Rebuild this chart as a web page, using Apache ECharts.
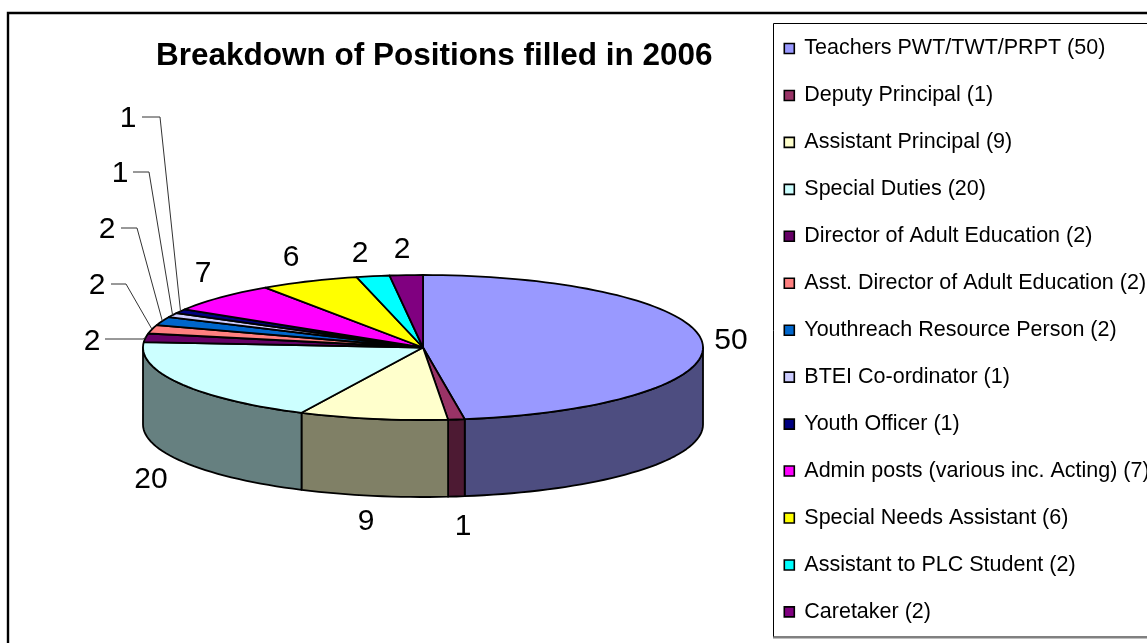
<!DOCTYPE html>
<html><head><meta charset="utf-8">
<style>html,body{margin:0;padding:0;background:#fff}#c{width:1147px;height:643px}</style>
<script src="https://cdn.jsdelivr.net/npm/echarts@6/dist/echarts.min.js"></script>
</head><body><div id="c"></div>
<script>
const names = ['Teachers PWT/TWT/PRPT (50)','Deputy Principal (1)','Assistant Principal (9)','Special Duties (20)','Director of Adult Education (2)','Asst. Director of Adult Education (2)','Youthreach Resource Person (2)','BTEI Co-ordinator (1)','Youth Officer (1)','Admin posts (various inc. Acting) (7)','Special Needs Assistant (6)','Assistant to PLC Student (2)','Caretaker (2)'];
const values = [50,1,9,20,2,2,2,1,1,7,6,2,2];
const colors = ['#9999FF','#993366','#FFFFCC','#CCFFFF','#660066','#FF8080','#0066CC','#CCCCFF','#000080','#FF00FF','#FFFF00','#00FFFF','#800080'];
const labelAt = [[731,339],[463,525],[366,520],[151,478],[92,340],[97,284],[107,228],[120,172],[128,117],[203,272],[291,256],[360,252],[402,248]];
const leaderElbow = [null,null,null,null,[143,339],[126,284],[137,228],[149,172],[160,117],null,null,null,null];
const leaderStart = [null,null,null,null,[105,339],[111,284],[121,228],[133,172],[142,117],null,null,null,null];

const cx = 423, cy = 347.5, rx = 280, ry = 72.5, depth = 77;
const total = values.reduce((a,b)=>a+b,0);
const pt = (deg,dy=0)=>{const t=deg*Math.PI/180;return [cx+rx*Math.sin(t), cy-ry*Math.cos(t)+dy];};
const arc = (a,b,dy=0)=>{const out=[],n=Math.max(2,Math.ceil(Math.abs(b-a)/2));for(let i=0;i<=n;i++)out.push(pt(a+(b-a)*i/n,dy));return out;};
const dark = hex=>{const n=parseInt(hex.slice(1),16);const f=v=>Math.round(v/2);return `rgb(${f(n>>16&255)},${f(n>>8&255)},${f(n&255)})`;};

const starts=[];let run=0;values.forEach(v=>{starts.push(run);run+=v;});

function render(i){
  return function(params,api){
    const a=starts[i]/total*360, b=(starts[i]+api.value(0))/total*360;
    const children=[];
    const sa=Math.max(a,90), sb=Math.min(b,270);
    if(sb>sa){
      const top=arc(sa,sb), bot=arc(sa,sb,depth).reverse();
      children.push({type:'polygon',z2:1,shape:{points:top.concat(bot)},style:{fill:dark(colors[i]),stroke:'#000',lineWidth:1.8,lineJoin:'round'}});
    }
    children.push({type:'polygon',z2:2,shape:{points:[[cx,cy]].concat(arc(a,b))},style:{fill:colors[i],stroke:'#000',lineWidth:1.8,lineJoin:'round'}});
    if(leaderElbow[i]){
      const e=pt((a+b)/2);
      children.push({type:'polyline',z2:3,shape:{points:[leaderStart[i],leaderElbow[i],e]},style:{fill:null,stroke:'#333',lineWidth:1}});
    }
    children.push({type:'text',z2:4,style:{x:labelAt[i][0],y:labelAt[i][1]+2,text:String(api.value(0)),fill:'#000',font:'30px "Liberation Sans"',align:'center',verticalAlign:'middle'}});
    return {type:'group',children};
  };
}

const series=names.map((n,i)=>({type:'custom',name:n,coordinateSystem:'none',silent:true,clip:false,itemStyle:{color:colors[i]},renderItem:render(i),data:[[values[i]]],encode:{}}));

const chart=echarts.init(document.getElementById('c'),null,{renderer:'canvas'});
chart.setOption({
  animation:false,backgroundColor:'#fff',
  title:{text:'Breakdown of Positions filled in 2006',left:156,top:40,padding:0,textStyle:{fontFamily:'Liberation Sans',fontWeight:'bold',fontSize:31.5,color:'#000'}},
  legend:{type:'plain',orient:'vertical',left:783.5,top:37.5,padding:0,itemWidth:10,itemHeight:10,itemGap:24.95,icon:'rect',itemStyle:{borderColor:'#000',borderWidth:1.6},selectedMode:false,
    textStyle:{fontFamily:'Liberation Sans',fontSize:21.5,color:'#000',padding:[0,0,0,5]},data:names},
  graphic:[
    {type:'rect',silent:true,z:-1,shape:{x:8,y:13,width:1200,height:700},style:{fill:'#fff',stroke:'#000',lineWidth:2.4}},
    {type:'rect',silent:true,z:-1,shape:{x:773.5,y:23.5,width:500,height:613.5},style:{fill:'#fff',stroke:'#000',lineWidth:1}},
    {type:'line',silent:true,z:-1,shape:{x1:773,y1:637.5,x2:1147,y2:637.5},style:{stroke:'#808080',lineWidth:2}}
  ],
  series
});
</script></body></html>
